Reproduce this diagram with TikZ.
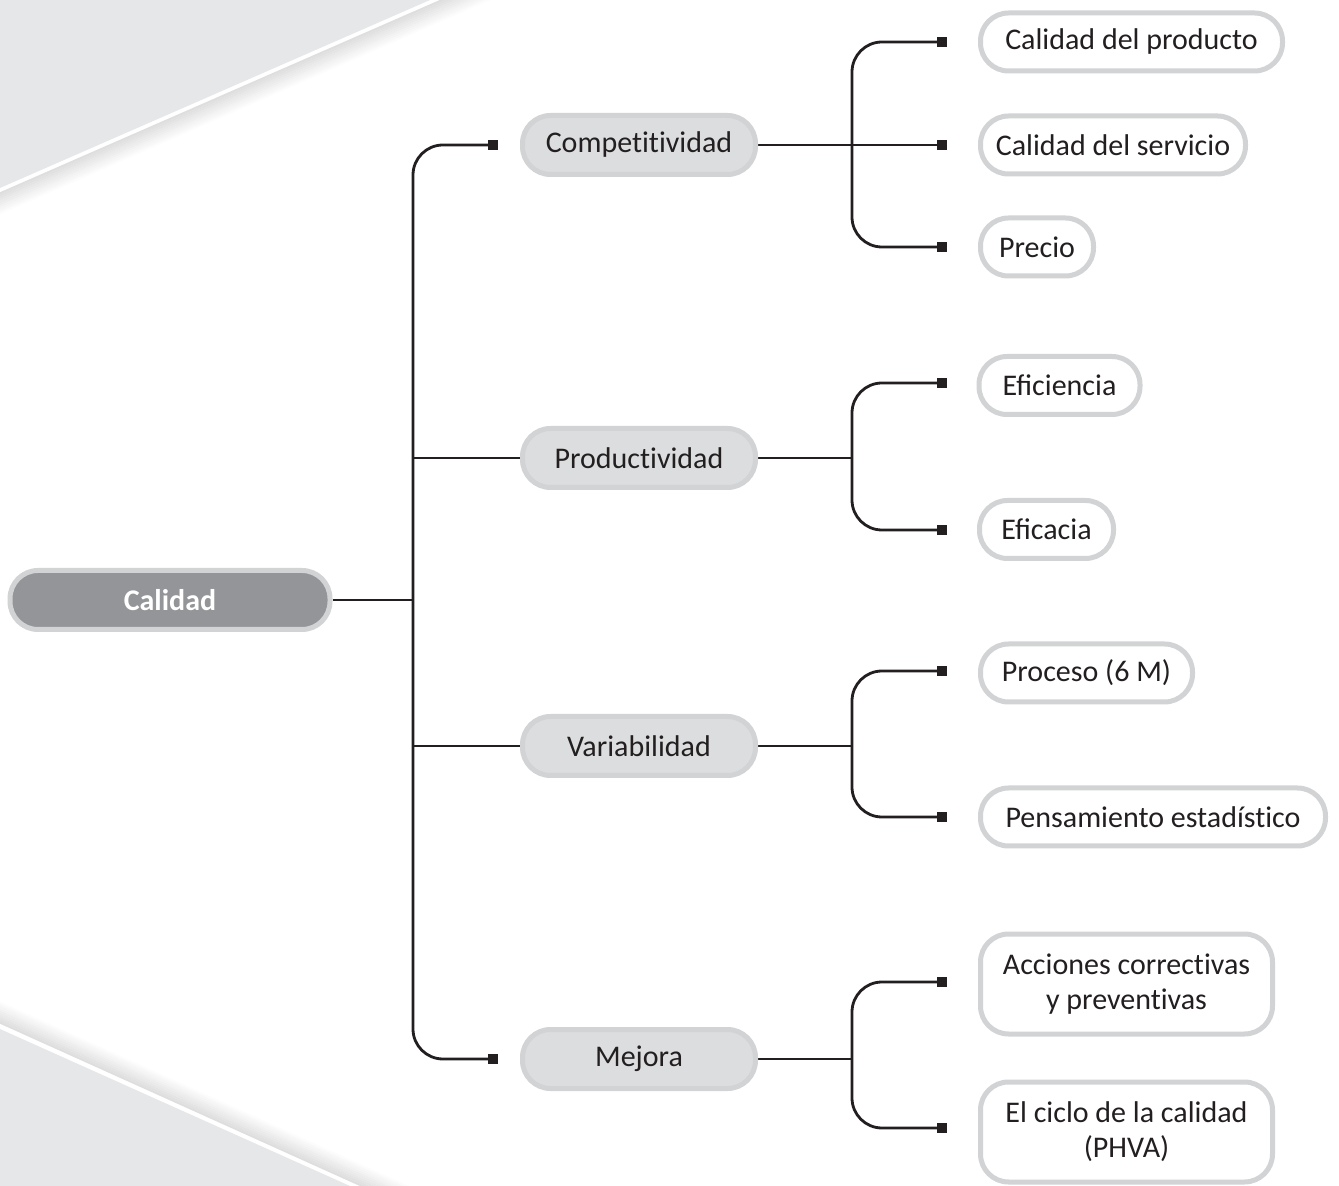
\documentclass[tikz,border=0pt]{standalone}
\usepackage{fontspec}
\setmainfont{Carlito}
\definecolor{bggray}{HTML}{E6E7E8}
\definecolor{rootfill}{HTML}{939598}
\definecolor{edgegray}{HTML}{D1D3D4}
\definecolor{midfill}{HTML}{DCDDDE}
\definecolor{ink}{HTML}{231F20}
\newcommand\brk{\kern0pt }
\pgfdeclarelayer{bg}
\pgfdeclarelayer{lines}
\pgfsetlayers{bg,lines,main}
\begin{document}
\begin{tikzpicture}[x=0.5pt,y=-0.5pt,
  rootbox/.style={draw=edgegray, fill=rootfill, line width=2.5pt, rounded corners=14pt,
    minimum width=160pt, minimum height=29.5pt, inner sep=0pt, text=white,
    font=\fontsize{15}{17}\selectfont\bfseries},
  midbox/.style={draw=edgegray, fill=midfill, line width=2.5pt, rounded corners=14pt,
    minimum width=116.5pt, minimum height=29.5pt, inner sep=0pt, text=ink,
    font=\fontsize{15}{17}\selectfont},
  leafbox/.style={draw=edgegray, fill=white, line width=2.5pt, rounded corners=14pt,
    minimum height=29pt, inner sep=0pt, text=ink, align=center,
    font=\fontsize{15}{17.5}\selectfont},
  mk/.style={fill=ink, minimum size=5pt, inner sep=0pt},
  link/.style={draw=ink, line width=1.4pt},
  branch/.style={link, rounded corners=15pt}]
\useasboundingbox (0,0) rectangle (1339,1186);

\begin{pgfonlayer}{bg}
\begin{scope}
\clip (0,0) rectangle (1339,1186);
% top-left band with shadow
\foreach \d in {5,7,...,23}{
  \pgfmathsetmacro\s{13*(25-\d)/20}
  \draw[line width=1.1pt, black!\s, shift={(0.40*\d,0.917*\d)}] (-200,275.4) -- (630,-87.4);
}
\fill[bggray] (-5,-5) -- (430,-5) -- (430,0) -- (0,188) -- (-5,190) -- cycle;
% bottom-left band with shadow
\foreach \d in {5,7,...,23}{
  \pgfmathsetmacro\s{13*(25-\d)/20}
  \draw[line width=1.1pt, black!\s, shift={(0.411*\d,-0.912*\d)}] (-100,982.9) -- (500,1253.5);
}
\fill[bggray] (-5,1026.7) -- (0,1029) -- (350,1186) -- (350,1195) -- (-5,1195) -- cycle;
\end{scope}
\end{pgfonlayer}

% nodes
\node[rootbox] (cal) at (170,600) {Calidad};
\node[midbox] (comp) at (639,145) {Compet\brk it\brk ividad};
\node[midbox] (prod) at (639,458) {Product\brk ividad};
\node[midbox] (vari) at (639,746) {Variabilidad};
\node[midbox] (mej) at (639,1059) {Mejora};

\node[leafbox, minimum width=151pt] (l1) at (1131.5,42) {Calidad del producto};
\node[leafbox, minimum width=132.5pt] (l2) at (1113,145) {Calidad del servicio};
\node[leafbox, minimum width=56.5pt] (l3) at (1037,247) {Precio};
\node[leafbox, minimum width=80.5pt] (l4) at (1059.5,385.5) {Eficiencia};
\node[leafbox, minimum width=67pt] (l5) at (1046.5,529.5) {Eficacia};
\node[leafbox, minimum width=106pt] (l6) at (1086.5,673) {Proceso (6 M)};
\node[leafbox, minimum width=172.5pt] (l7) at (1153,817) {Pensamiento estadíst\brk ico};
\node[leafbox, minimum width=146pt, minimum height=50pt] (l8) at (1126.5,984) {Acciones correct\brk ivas\\y prevent\brk ivas};
\node[leafbox, minimum width=146pt, minimum height=50pt] (l9) at (1126.5,1132) {El ciclo de la calidad\\(PHVA)};

% markers
\node[mk] (mc) at (493,145) {};
\node[mk] (mm) at (493,1059) {};
\node[mk] (m1) at (942,42) {};
\node[mk] (m2) at (942,145) {};
\node[mk] (m3) at (942,247) {};
\node[mk] (m4) at (942,383) {};
\node[mk] (m5) at (942,530) {};
\node[mk] (m6) at (942,671) {};
\node[mk] (m7) at (942,817) {};
\node[mk] (m8) at (942,982) {};
\node[mk] (m9) at (942,1128) {};

\coordinate (tr) at (413,600);
\coordinate (t1) at (852,145);
\coordinate (t2) at (852,458);
\coordinate (t3) at (852,746);
\coordinate (t4) at (852,1059);

\begin{pgfonlayer}{lines}
\draw[link] (cal.east) -- (tr);
\draw[branch] (mc.center) -| (tr) |- (mm.center);
\draw[link] (tr |- prod.west) -- (prod.west);
\draw[link] (tr |- vari.west) -- (vari.west);

\draw[link] (comp.east) -- (m2.center);
\draw[branch] (m1.center) -| (t1) |- (m3.center);
\draw[link] (prod.east) -- (t2);
\draw[branch] (m4.center) -| (t2) |- (m5.center);
\draw[link] (vari.east) -- (t3);
\draw[branch] (m6.center) -| (t3) |- (m7.center);
\draw[link] (mej.east) -- (t4);
\draw[branch] (m8.center) -| (t4) |- (m9.center);
\end{pgfonlayer}
\end{tikzpicture}
\end{document}
